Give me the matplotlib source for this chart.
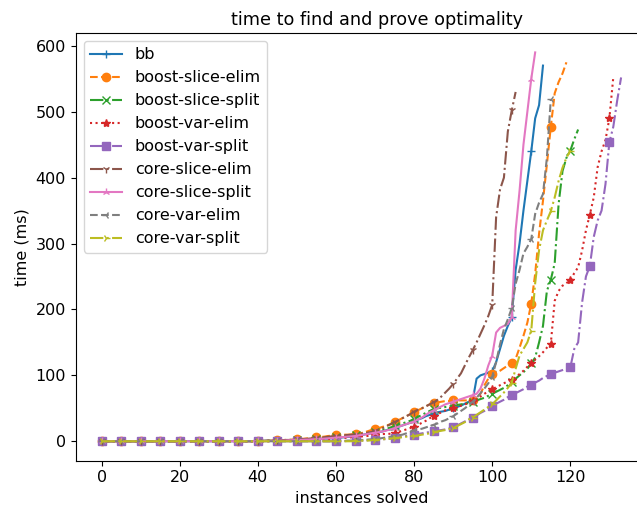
import matplotlib
matplotlib.use("Agg")
import matplotlib.pyplot as plt

plt.rcParams['font.size'] = 11.5

# sorted solve times (ms) per solver, one entry per solved instance
names = ['bb', 'boost-slice-elim', 'boost-slice-split', 'boost-var-elim',
         'boost-var-split', 'core-slice-elim', 'core-slice-split',
         'core-var-elim', 'core-var-split']

bb = [0, 0, 0, 0, 0, 0, 0, 0, 0, 0,
      0, 0, 0, 0, 0, 0, 0, 0, 0, 0,
      0, 0, 0, 0, 0, 0, 0, 0, 0, 0,
      0, 0, 0, 0, 0, 0, 0, 0, 0, 0.5,
      0.5, 0.5, 0.5, 1, 1, 1, 1, 1, 1.5, 1.5,
      2, 2, 2, 2.5, 3, 3, 3.5, 4, 4, 4.5,
      5, 5.5, 6, 6.5, 7, 8, 9, 10, 11, 12,
      13, 14, 15, 17, 18, 20, 22, 24, 26, 28,
      30, 33, 35, 38, 40, 42, 44, 45, 46, 48,
      50, 52, 54, 57, 60, 62, 95, 100, 102, 104,
      106, 120, 140, 160, 175, 188, 260, 300, 350, 395,
      440, 490, 510, 570]

boost_slice_elim = [0, 0, 0, 0, 0, 0, 0, 0, 0, 0,
                    0, 0, 0, 0, 0, 0, 0, 0, 0, 0,
                    0, 0, 0, 0, 0, 0, 0, 0, 0, 0,
                    0, 0, 0, 0, 0, 0, 0, 0, 0, 0,
                    0.5, 0.5, 1, 1, 1, 1.5, 1.5, 2, 2, 2.5,
                    3, 3.5, 4, 4.5, 5, 6, 6.5, 7, 8, 8.5,
                    9, 9.5, 10, 10, 10.5, 11, 12, 13, 15, 17,
                    19, 20, 22, 24, 26, 29, 32, 35, 38, 41,
                    44, 47, 50, 53, 56, 58, 59, 60, 61, 61,
                    62, 62, 62, 62, 62, 62, 65, 72, 85, 95,
                    102, 104, 107, 111, 115, 119, 125, 142, 160, 180,
                    209, 254, 315, 365, 420, 477, 528, 545, 558, 575]

boost_slice_split = [0, 0, 0, 0, 0, 0, 0, 0, 0, 0,
                     0, 0, 0, 0, 0, 0, 0, 0, 0, 0,
                     0, 0, 0, 0, 0, 0, 0, 0, 0, 0,
                     0, 0, 0, 0, 0, 0, 0, 0, 0, 0,
                     0.5, 0.5, 0.5, 1, 1, 1, 1, 1.5, 1.5, 2,
                     2, 2.5, 3, 3, 3.5, 4, 4.5, 5, 5.5, 6,
                     6.5, 7, 7.5, 8, 8.5, 9, 10, 11, 12, 13,
                     14, 15, 17, 19, 21, 23, 25, 27, 29, 31,
                     34, 37, 40, 43, 46, 49, 50, 51, 52, 53,
                     54, 55, 56, 57, 58, 60, 62, 64, 66, 69,
                     72, 75, 78, 81, 85, 90, 95, 100, 105, 110,
                     118, 127, 150, 175, 228, 245, 270, 360, 410, 430,
                     441, 458, 473]

boost_var_elim = [0, 0, 0, 0, 0, 0, 0, 0, 0, 0,
                  0, 0, 0, 0, 0, 0, 0, 0, 0, 0,
                  0, 0, 0, 0, 0, 0, 0, 0, 0, 0,
                  0, 0, 0, 0, 0, 0, 0, 0, 0, 0,
                  0, 0, 0, 0, 0.5, 0.5, 0.5, 0.5, 1, 1,
                  1, 1, 1.5, 1.5, 2, 2, 2.5, 3, 3, 3.5,
                  4, 4.5, 5, 5.5, 6, 6.5, 7, 7.5, 8, 9,
                  10, 10.5, 11, 11, 11.5, 12, 14, 16, 18, 20,
                  22, 25, 28, 31, 35, 38, 41, 44, 47, 49,
                  50, 52, 54, 56, 58, 61, 64, 68, 72, 76,
                  79, 82, 85, 88, 91, 93, 97, 102, 107, 113,
                  119, 124, 129, 135, 142, 148, 213, 228, 236, 240,
                  244, 255, 264, 289, 320, 344, 370, 416, 440, 457,
                  490, 552]

boost_var_split = [0, 0, 0, 0, 0, 0, 0, 0, 0, 0,
                   0, 0, 0, 0, 0, 0, 0, 0, 0, 0,
                   0, 0, 0, 0, 0, 0, 0, 0, 0, 0,
                   0, 0, 0, 0, 0, 0, 0, 0, 0, 0,
                   0, 0, 0, 0, 0, 0, 0, 0, 0, 0,
                   0, 0, 0, 0, 0, 0, 0, 0, 0, 0,
                   0, 0, 0, 0.5, 0.5, 0.5, 1, 1, 1.5, 2,
                   2.5, 3, 3, 3.5, 4, 5, 6, 7, 8, 9,
                   10, 11, 12, 13, 14, 15, 16, 17, 18, 19.5,
                   21, 24, 27, 30, 33, 36, 39, 43, 46, 50,
                   53, 57, 60, 63, 67, 70, 73, 76, 79, 83,
                   86, 89, 92, 96, 99, 102, 104, 106, 108, 110,
                   112, 140, 150, 210, 250, 266, 310, 335, 350, 390,
                   454, 477, 517, 552]

core_slice_elim = [0, 0, 0, 0, 0, 0, 0, 0, 0, 0,
                   0, 0, 0, 0, 0, 0, 0, 0, 0, 0,
                   0, 0, 0, 0, 0, 0, 0, 0, 0, 0,
                   0, 0, 0, 0, 0, 0, 0, 0, 0, 0,
                   0.5, 0.5, 1, 1, 1, 1.5, 1.5, 2, 2, 2.5,
                   3, 3, 3.5, 4, 4.5, 5, 5.5, 6, 7, 7.5,
                   8, 8.5, 9, 9.5, 10, 10, 11, 12, 13, 14,
                   16, 18, 20, 23, 26, 29, 32, 35, 38, 41,
                   45, 48, 50, 53, 56, 59, 63, 68, 74, 80,
                   87, 95, 103, 115, 127, 138, 150, 163, 176, 190,
                   207, 340, 382, 400, 470, 502, 530]

core_slice_split = [0, 0, 0, 0, 0, 0, 0, 0, 0, 0,
                    0, 0, 0, 0, 0, 0, 0, 0, 0, 0,
                    0, 0, 0, 0, 0, 0, 0, 0, 0, 0,
                    0, 0, 0, 0, 0, 0, 0, 0, 0, 0,
                    0, 0, 0.5, 0.5, 0.5, 1, 1, 1, 1.5, 1.5,
                    2, 2, 2.5, 2.5, 3, 3, 3.5, 4, 4.5, 5,
                    5.5, 6, 6.5, 7, 7.5, 8, 9, 10, 11, 12,
                    13, 14, 15, 16.5, 18, 20, 22, 24, 26, 28,
                    30, 33, 36, 40, 44, 47, 50, 53, 56, 58,
                    60, 62, 64, 66, 68, 70, 72, 80, 95, 115,
                    130, 165, 172, 175, 178, 188, 320, 380, 450, 500,
                    550, 590]

core_var_elim = [0, 0, 0, 0, 0, 0, 0, 0, 0, 0,
                 0, 0, 0, 0, 0, 0, 0, 0, 0, 0,
                 0, 0, 0, 0, 0, 0, 0, 0, 0, 0,
                 0, 0, 0, 0, 0, 0, 0, 0, 0, 0,
                 0, 0, 0, 0, 0, 0, 0, 0, 0, 0,
                 0, 0, 0, 0, 0, 0, 0, 0, 0, 0,
                 0, 0.5, 0.5, 1, 1, 1.5, 2, 2, 2.5, 3,
                 3.5, 4, 5, 6, 7, 8, 9, 10, 12, 14,
                 17, 18, 19, 21, 23, 25, 27, 30, 32, 35,
                 38, 42, 46, 50, 55, 60, 66, 73, 80, 88,
                 98, 120, 147, 170, 185, 202, 239, 260, 285, 295,
                 307, 345, 362, 375, 430, 519]

core_var_split = [0, 0, 0, 0, 0, 0, 0, 0, 0, 0,
                  0, 0, 0, 0, 0, 0, 0, 0, 0, 0,
                  0, 0, 0, 0, 0, 0, 0, 0, 0, 0,
                  0, 0, 0, 0, 0, 0, 0, 0, 0, 0,
                  0, 0, 0, 0, 0, 0, 0, 0, 0, 0,
                  0, 0, 0, 0, 0, 0, 0, 0, 0, 0,
                  0, 0, 0, 0, 0, 0.5, 0.5, 1, 1, 1.5,
                  2, 2.5, 3, 3.5, 4, 5, 5.5, 6, 7, 7.5,
                  8, 9, 10, 11, 12, 14, 15, 16, 17, 18.5,
                  20, 23, 26, 29, 33, 36, 40, 44, 48, 52,
                  56, 62, 68, 74, 81, 89, 110, 130, 140, 150,
                  168, 240, 290, 320, 335, 349, 370, 395, 415, 430,
                  441]

series = [bb, boost_slice_elim, boost_slice_split, boost_var_elim,
          boost_var_split, core_slice_elim, core_slice_split,
          core_var_elim, core_var_split]
markers = ['+', 'o', 'x', '*', 's', '1', '2', '3', '4']
styles = ['-', '--', '-.', ':', '-.', '-.', '-', '--', '-.']

fig = plt.figure(figsize=(6.37, 5.08), dpi=100)
# the reference is clipped on the right, so the axes run past the canvas
ax = fig.add_axes([0.1188, 0.0931, 0.897, 0.842])

for name, ys, m, ls in zip(names, series, markers, styles):
    ax.plot(range(len(ys)), ys, linestyle=ls, marker=m, markevery=5,
            label=name)

ax.set_xlabel('instances solved')
ax.set_ylabel('time (ms)')
ax.set_title('time to find and prove optimality', fontsize=12.7, x=0.527)
ax.legend(loc='upper left')

fig.savefig('out.png', dpi=100)
